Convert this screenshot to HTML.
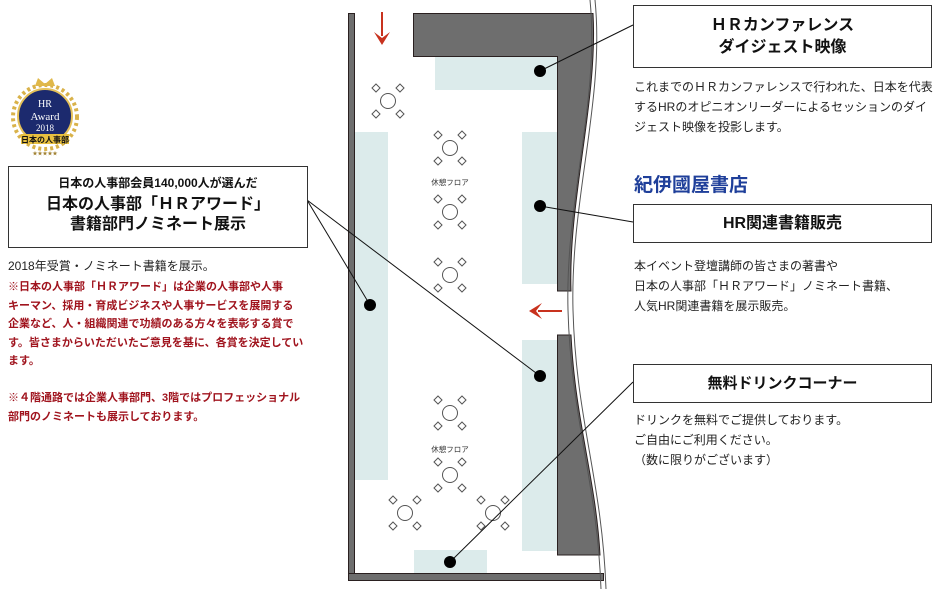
<!DOCTYPE html>
<html><head><meta charset="utf-8"><style>
body{margin:0;width:942px;height:589px;background:#fff;overflow:hidden;position:relative;font-family:"Liberation Sans","Noto Sans CJK JP",sans-serif;}
.t{position:absolute;font-size:12px;line-height:20px;color:#222;white-space:nowrap;}
.r{color:#a0141e;font-weight:bold;}
.box{position:absolute;border:1px solid #333;background:#fff;text-align:center;font-weight:bold;color:#111;box-sizing:border-box;}
</style></head><body>
<svg width="942" height="589" style="position:absolute;left:0;top:0">
<defs>
<g id="tb" fill="#fff" stroke="#555" stroke-width="1"><circle cx="0" cy="0" r="7.5"/>
<path d="M-12,-17 L-8,-13 L-12,-9 L-16,-13 Z"/>
<path d="M12,-17 L16,-13 L12,-9 L8,-13 Z"/>
<path d="M-12,9 L-8,13 L-12,17 L-16,13 Z"/>
<path d="M12,9 L16,13 L12,17 L8,13 Z"/></g>
</defs>
<g fill="#dcebeb">
<rect x="435" y="56" width="122" height="34"/>
<rect x="355" y="132" width="33" height="348"/>
<rect x="522" y="132" width="35" height="152"/>
<rect x="522" y="340" width="35" height="211"/>
<rect x="414" y="550" width="73" height="25"/>
</g>
<g fill="#6e6e6e" stroke="#2a2020" stroke-width="1">
<rect x="348.5" y="13.5" width="6" height="567"/>
<rect x="348.5" y="573.5" width="255" height="7"/>
<path d="M413.5,13.5 L593,13.5 C598,100 568,200 571,291 L557.5,291 L557.5,56.5 L413.5,56.5 Z"/>
<path d="M557.5,335 L571,335 C575,420 596,480 600,555 L557.5,555 Z"/>
</g>
<g fill="none" stroke="#555" stroke-width="1">
<path d="M590,0 C600,100 565,200 568,310 C571,420 597,480 601,589"/>
<path d="M595,0 C605,100 570,200 573,310 C576,420 602,480 606,589"/>
</g>
<use href="#tb" x="388" y="101"/>
<use href="#tb" x="450" y="148"/>
<use href="#tb" x="450" y="212"/>
<use href="#tb" x="450" y="275"/>
<use href="#tb" x="450" y="413"/>
<use href="#tb" x="450" y="475"/>
<use href="#tb" x="405" y="513"/>
<use href="#tb" x="493" y="513"/>
<text x="450" y="185" font-size="7.5" text-anchor="middle" fill="#333" font-family="Liberation Sans,Noto Sans CJK JP,sans-serif">休憩フロア</text>
<text x="450" y="452" font-size="7.5" text-anchor="middle" fill="#333" font-family="Liberation Sans,Noto Sans CJK JP,sans-serif">休憩フロア</text>
<g stroke="#c8321e" stroke-width="2" fill="#c8321e">
<line x1="382" y1="12" x2="382" y2="36"/>
<path d="M374,32 L382,45 L390,32 L382,38 Z" stroke="none"/>
<line x1="562" y1="311" x2="538" y2="311"/>
<path d="M542,303 L529,311 L542,319 L536,311 Z" stroke="none"/>
</g>
<g stroke="#111" stroke-width="1">
<line x1="540" y1="71" x2="633" y2="25"/>
<line x1="540" y1="206" x2="633" y2="222"/>
<line x1="450" y1="562" x2="633" y2="382"/>
<line x1="307" y1="200" x2="370" y2="305"/>
<line x1="307" y1="200" x2="540" y2="376"/>
</g>
<g fill="#000"><circle cx="540" cy="71" r="6"/><circle cx="540" cy="206" r="6"/><circle cx="370" cy="305" r="6"/><circle cx="540" cy="376" r="6"/><circle cx="450" cy="562" r="6"/></g>
<g>
<circle cx="45" cy="117" r="32" fill="none" stroke="#d9b24a" stroke-width="4" stroke-dasharray="3 3"/>
<path d="M35,86 L38,78 L45,84 L52,78 L55,86 Z" fill="#e0b84a"/>
<circle cx="45" cy="116" r="27" fill="#1c2a6e" stroke="#e5c15a" stroke-width="2"/>
<text x="45" y="107" font-size="10" fill="#fff" text-anchor="middle" font-family="Liberation Serif,serif">HR</text>
<text x="45" y="120" font-size="11" fill="#fff" text-anchor="middle" font-family="Liberation Serif,serif">Award</text>
<text x="45" y="131" font-size="9" fill="#fff" text-anchor="middle" font-family="Liberation Serif,serif">2018</text>
<rect x="21" y="134" width="48" height="10" fill="#e8c040"/>
<text x="45" y="142.5" font-size="8" font-weight="bold" text-anchor="middle" fill="#111" font-family="Noto Sans CJK JP,sans-serif">日本の人事部</text>
<text x="45" y="155" font-size="5" text-anchor="middle" fill="#a08030">★★★★★</text>
</g>
</svg>

<div class="box" style="left:8px;top:166px;width:300px;height:82px;">
<div style="font-size:12px;margin-top:8px;line-height:16px;">日本の人事部会員140,000人が選んだ</div>
<div style="font-size:16px;line-height:20px;margin-top:4px;">日本の人事部「ＨＲアワード」<br>書籍部門ノミネート展示</div>
</div>
<div class="t" style="left:8px;top:256px;">2018年受賞・ノミネート書籍を展示。</div>
<div class="t r" style="left:8px;top:278px;font-size:11px;line-height:18.5px;">※日本の人事部「ＨＲアワード」は企業の人事部や人事<br>キーマン、採用・育成ビジネスや人事サービスを展開する<br>企業など、人・組織関連で功績のある方々を表彰する賞で<br>す。皆さまからいただいたご意見を基に、各賞を決定してい<br>ます。<br><br>※４階通路では企業人事部門、3階ではプロフェッショナル<br>部門のノミネートも展示しております。</div>

<div class="box" style="left:633px;top:5px;width:299px;height:63px;font-size:16px;line-height:22px;padding-top:9px;">ＨＲカンファレンス<br>ダイジェスト映像</div>
<div class="t" style="left:634px;top:77px;">これまでのＨＲカンファレンスで行われた、日本を代表<br>するHRのオピニオンリーダーによるセッションのダイ<br>ジェスト映像を投影します。</div>
<div style="position:absolute;left:634px;top:172px;font-size:19px;color:#1f3f9a;font-family:'Noto Sans CJK JP',sans-serif;line-height:24px;font-weight:bold;">紀伊國屋書店</div>
<div class="box" style="left:633px;top:204px;width:299px;height:39px;font-size:16px;line-height:37px;">HR関連書籍販売</div>
<div class="t" style="left:634px;top:256px;">本イベント登壇講師の皆さまの著書や<br>日本の人事部「ＨＲアワード」ノミネート書籍、<br>人気HR関連書籍を展示販売。</div>
<div class="box" style="left:633px;top:364px;width:299px;height:39px;font-size:15px;line-height:37px;">無料ドリンクコーナー</div>
<div class="t" style="left:634px;top:410px;">ドリンクを無料でご提供しております。<br>ご自由にご利用ください。<br>（数に限りがございます）</div>
</body></html>
